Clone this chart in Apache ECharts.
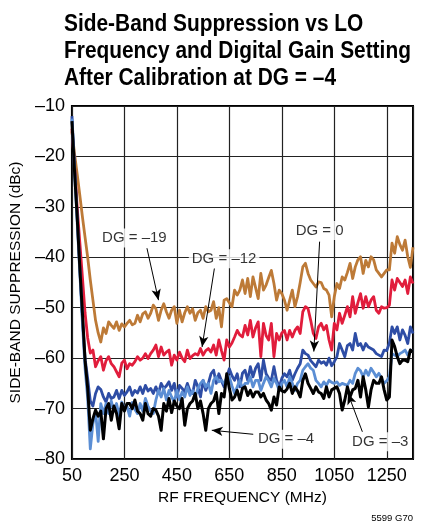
<!DOCTYPE html>
<html><head><meta charset="utf-8">
<script src="https://cdn.jsdelivr.net/npm/echarts@6/dist/echarts.min.js"></script>
<style>html,body{margin:0;padding:0;background:#fff}#c{width:425px;height:527px}</style>
</head><body><div id="c"></div>
<script>
const FONT = "'Liberation Sans',Arial,sans-serif";
const freq = [50,60,70,80,90,100,110,120,130,140,150,160,170,180,190,200,210,220,230,240,250,260,270,280,290,300,310,320,330,340,350,360,370,380,390,400,410,420,430,440,450,460,470,480,490,500,510,520,530,540,550,560,570,580,590,600,610,620,630,640,650,660,670,680,690,700,710,720,730,740,750,760,770,780,790,800,810,820,830,840,850,860,870,880,890,900,910,920,930,940,950,960,970,980,990,1000,1010,1020,1030,1040,1050,1060,1070,1080,1090,1100,1110,1120,1130,1140,1150,1160,1170,1180,1190,1200,1210,1220,1230,1240,1250,1260,1270,1280,1290,1300,1310,1320,1330,1340,1350];
const dgM19 = [-15,-19.5,-23.5,-27.7,-32,-36,-40,-44.5,-48.5,-52.5,-55,-56.8,-54,-55.1,-52.8,-53.5,-54.1,-52.8,-54.5,-53.2,-53.8,-53.1,-52.5,-53.4,-53.1,-51.5,-52.8,-51.2,-50.8,-52.1,-51.1,-49.5,-50.2,-52.5,-50.5,-49.2,-50.8,-52.1,-50.5,-49.8,-53.1,-50.5,-52.8,-51,-49.8,-51.1,-50.2,-52.5,-51,-50.5,-52.1,-49.8,-50.8,-50.5,-48.8,-52.1,-50,-53.8,-48.5,-48.2,-49,-49.8,-46.5,-47.5,-46.5,-44.5,-47.2,-44.2,-47.8,-43.9,-46,-48.2,-43.2,-46.5,-45.5,-44,-42.6,-45.2,-48.5,-46.5,-47.2,-48.5,-50.5,-48.5,-46.5,-49.8,-47.8,-45,-41.9,-41.2,-43.2,-44.5,-45.2,-45.9,-44.9,-45,-46.2,-46.5,-47.5,-51.8,-47.8,-45.2,-46.2,-43.9,-44.5,-43,-41.2,-44.2,-41.9,-40.5,-39.9,-43.2,-40.6,-41.9,-39.9,-40.5,-42.5,-43.2,-43.9,-43.2,-42.5,-42.5,-37.2,-39.2,-35.9,-37.5,-38.6,-36.6,-39.9,-42,-38];
const dgM12 = [-14.5,-22,-30,-37,-44,-51,-56,-59,-58.4,-61.7,-60.5,-59.7,-62.4,-60.5,-59.7,-61.1,-61.7,-62.7,-63.7,-61,-60.4,-62.1,-61.1,-61.4,-60.7,-59.7,-60.4,-60,-59.1,-60.1,-59.1,-58.4,-57.4,-59.7,-57.8,-59.4,-58.8,-58.4,-61.4,-59.4,-60.4,-58.8,-60,-60.7,-58.4,-60.1,-59.5,-59.1,-59.4,-58.1,-59.4,-58.5,-58.1,-58.8,-57.4,-59.4,-56.4,-58.5,-60.4,-56.4,-57.8,-57,-55.8,-54.5,-55.4,-55.8,-53.5,-55.4,-52.5,-55.8,-54,-52.8,-59.7,-53.1,-55.5,-56.4,-53.1,-59.7,-55.1,-56.4,-55,-54.5,-56.4,-54.5,-55.8,-54.5,-53.8,-55.1,-50.8,-49.8,-50.2,-52.5,-55.1,-56.1,-53.8,-53.1,-54.4,-53.5,-56.4,-58.4,-53.1,-54.4,-51.1,-53.1,-51.5,-49.8,-51.8,-47.8,-51.1,-49,-47.2,-50.1,-47.8,-49.8,-48.5,-47.8,-50.5,-51.1,-49.8,-50.1,-50,-49.5,-44.5,-46.5,-44.2,-45,-45.8,-44.5,-47.2,-43.9,-45.2];
const dg0 = [-12,-22,-32,-42,-52,-60,-64,-68.5,-69.5,-67,-65.7,-66.2,-67.7,-68.7,-67,-68,-67.7,-66.4,-68,-66.4,-67.4,-66.7,-65.7,-67.4,-66.4,-66.9,-65.7,-67,-65.4,-66.5,-66,-67,-65.7,-67,-65,-66,-65.5,-64.7,-66.4,-65,-67.7,-65.4,-66,-66.7,-65,-66.5,-67,-64.4,-65.7,-67.7,-64.4,-66.4,-65,-63.1,-62.4,-65,-63.1,-64.5,-65.7,-63.7,-62.1,-63.5,-64.4,-63.1,-65.7,-63,-62.4,-64.4,-61.7,-63.7,-62,-61.1,-64.4,-60.4,-63.1,-64,-64.4,-61.7,-64.4,-65.7,-64,-63.1,-63.7,-62.4,-64.4,-63.1,-62,-61.1,-58.4,-59.1,-59.4,-60.5,-61.1,-61.7,-60.4,-61,-60.7,-61.4,-60,-61.5,-60.7,-59.7,-57.1,-58.4,-59.7,-57.5,-57.1,-58.4,-55.1,-57.5,-57.1,-58.4,-57.1,-57.8,-58.1,-58.4,-59.1,-59.4,-59.7,-58.4,-58.5,-57,-53.8,-55.1,-53.8,-56.4,-54.4,-55.5,-57.1,-53.8,-55.1];
const dgM3 = [-12.5,-23,-33,-43,-53,-62,-68,-78,-73,-70.5,-76.5,-69,-71,-69,-71,-68.5,-70.5,-69,-71.5,-68.7,-70,-69.5,-71.5,-68.8,-70.2,-71,-69,-70.5,-68,-69.5,-70.5,-71,-68.3,-66.4,-67.7,-66,-68.3,-66.4,-67.7,-68.7,-66.4,-68.3,-66.7,-67.7,-65.7,-67.4,-66.4,-67.7,-66,-65,-64.4,-65.7,-65,-67,-64.4,-63.7,-64.7,-64.4,-65,-64,-63.7,-65.5,-67,-65.7,-64.4,-66,-65,-65,-63.7,-65.7,-64.4,-64.4,-66.4,-65,-63.7,-64.5,-65.7,-64,-65,-66.4,-65,-64.4,-65.7,-63.7,-65,-66.4,-65,-64.4,-62.4,-61.7,-61.1,-62,-62.4,-64.4,-65,-65.7,-64.7,-65.4,-64.4,-64.8,-65,-64.7,-65.4,-65,-65.2,-65.4,-64.4,-65,-63,-62,-62.5,-63.7,-62.4,-63.4,-62,-62.8,-63.7,-63,-64,-65,-64.5,-63.7,-59.1,-59.4,-59.7,-59.1,-58.8,-58.4,-59.4,-58.4,-58.7];
const dgM4 = [-13,-23,-32,-42,-51,-60.5,-66,-74.3,-72,-70.3,-71.5,-70.5,-76,-70,-69,-72.3,-69.5,-71,-74,-69,-70.5,-69,-69,-70,-68.3,-70.5,-71,-72.3,-69,-71,-71.5,-70,-70.3,-71.5,-74.3,-69,-70.5,-68,-70.8,-68.5,-69.5,-70,-68,-73.3,-70,-69,-68.5,-67,-70,-68.5,-71,-74.3,-70,-69,-68.5,-66.8,-71,-67,-67.7,-63.1,-66,-68.3,-67.7,-66.4,-68.3,-66,-65.7,-67.4,-66.4,-67.7,-66.7,-66.7,-67.7,-67,-68.3,-69,-70.3,-67.7,-69.3,-65.7,-66.5,-66.7,-66.1,-65,-67,-65.7,-66.5,-67.7,-64.4,-63.1,-65,-66,-67,-65.7,-66.7,-67,-68,-65.7,-67.7,-66.3,-66,-65.7,-67,-70.3,-68.3,-65.7,-67.7,-66.3,-66,-64.4,-67.7,-63.7,-66.3,-69.7,-66.3,-64.4,-65,-65,-63.7,-66.3,-68.3,-67.7,-56.4,-57.7,-59.7,-61.1,-60.4,-60.4,-60.7,-58.4,-58.7];
const titleLines = ['Side-Band Suppression vs LO', 'Frequency and Digital Gain Setting', 'After Calibration at DG = \u20134'];
const labels = [
  {text:'DG = \u201319', at:[288,-36.2], from:[336,-38.2], to:[380,-48.5]},
  {text:'DG = \u201312', at:[630,-40.3], from:[593,-42.2], to:[546,-57.8]},
  {text:'DG = 0', at:[994,-34.7], from:[994,-36.9], to:[972,-58.7]},
  {text:'DG = \u20134', at:[866,-76.1], from:[741,-75.1], to:[583,-74.3]},
  {text:'DG = \u20133', at:[1225,-76.6], from:[1157,-74.6], to:[1102,-67]}
];
const seriesDef = [
  {name:'DG = -19', data:dgM19, color:'#BD7A37', w:2.8},
  {name:'DG = -12', data:dgM12, color:'#E11D3C', w:2.8},
  {name:'DG = 0', data:dg0, color:'#2E4DA5', w:2.8},
  {name:'DG = -3', data:dgM3, color:'#5B8ED4', w:2.8},
  {name:'DG = -4', data:dgM4, color:'#000000', w:3}
];
const dash = v => (v < 0 ? '\u2013' + Math.abs(v) : String(v));
const chart = echarts.init(document.getElementById('c'), null, {renderer:'canvas'});
const series = seriesDef.map(s => ({
  type:'line', name:s.name, showSymbol:false, symbol:'none', animation:false,
  data: freq.map((f,i) => [f, s.data[i]]),
  lineStyle:{color:s.color, width:s.w, join:'round'}, z:3
}));
series.push({
  type:'scatter', name:'labels', symbolSize:0, animation:false, z:10,
  data: labels.map(l => ({value:l.at, name:l.text})),
  label:{show:true, position:'inside', formatter:p => p.name, color:'#000', fontFamily:FONT, fontSize:15,
         backgroundColor:'#fff', padding:[2,3]},
  markLine:{silent:true, animation:false, symbol:['none','arrow'], symbolSize:[7,11],
    lineStyle:{color:'#000', width:1, type:'solid'}, label:{show:false},
    data: labels.map(l => [{coord:l.from}, {coord:l.to}])}
});
chart.setOption({
  animation:false,
  backgroundColor:'#fff',
  grid:{left:63, right:12, top:106, bottom:68, show:true, borderColor:'#000', borderWidth:2, backgroundColor:'transparent'},
  xAxis:{type:'value', min:50, max:1350, interval:200,
    axisLine:{show:false}, axisTick:{show:false},
    splitLine:{show:true, lineStyle:{color:'#222', width:1.2}},
    axisLabel:{fontFamily:FONT, fontSize:18, color:'#000', margin:8, showMaxLabel:false, formatter:v => dash(v)},
    name:'RF FREQUENCY (MHz)', nameLocation:'middle', nameGap:31,
    nameTextStyle:{fontFamily:FONT, fontSize:15.5, color:'#000'}},
  yAxis:{type:'value', min:-80, max:-10, interval:10,
    axisLine:{show:false}, axisTick:{show:false},
    splitLine:{show:true, lineStyle:{color:'#222', width:1.2}},
    axisLabel:{fontFamily:FONT, fontSize:18, color:'#000', margin:7, formatter:v => dash(v)},
    name:'SIDE-BAND SUPPRESSION (dBc)', nameLocation:'middle', nameGap:37,
    nameTextStyle:{fontFamily:FONT, fontSize:15.5, color:'#000'}},
  graphic:[
    ...titleLines.map((t,i) => ({type:'text', x:64, y:12 + i*27, scaleX:0.87,
      style:{text:t, font:"bold 24px " + FONT, fill:'#000', textVerticalAlign:'top'}})),
    {type:'text', right:12, bottom:4, style:{text:'5599 G70', font:"9.5px " + FONT, fill:'#000'}}
  ],
  series
});
</script></body></html>
